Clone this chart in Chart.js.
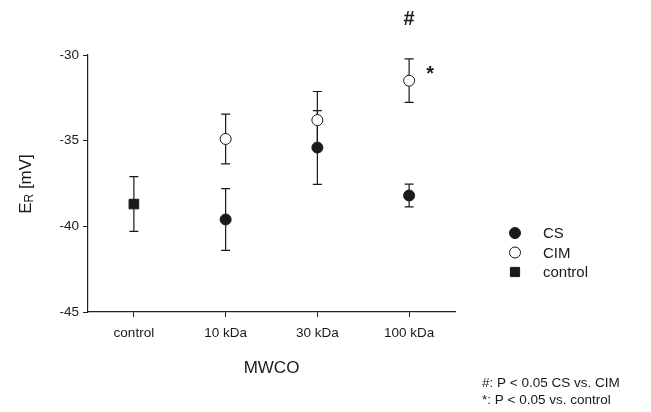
<!DOCTYPE html>
<html>
<head>
<meta charset="utf-8">
<script src="https://cdn.jsdelivr.net/npm/chart.js@4.4.1/dist/chart.umd.min.js"></script>
<style>
html,body{margin:0;padding:0;background:#fff;}
#wrap{width:651px;height:412px;}
</style>
</head>
<body>
<div id="wrap"><canvas id="c" width="651" height="412"></canvas></div>
<script>
const categories = ["control", "10 kDa", "30 kDa", "100 kDa"];
const csMean = [null, -39.6, -35.4, -38.2];
const csErr  = [null, 1.8, 2.15, 0.66];
const cimMean = [null, -34.9, -33.8, -31.5];
const cimErr  = [null, 1.45, 1.67, 1.27];
const controlMean = [-38.7, null, null, null];
const controlErr  = [1.6, null, null, null];
const yTicks = [-45, -40, -35, -30];
const sigHash = [null, null, null, "#"];
const sigStar = [null, null, null, "*"];
const notes = ["#: P < 0.05 CS vs. CIM", "*: P < 0.05 vs. control"];

const FONT = "'Liberation Sans', Arial, Helvetica, sans-serif";
const INK = "#1a1a1a";

const datasets = [
  {label: "CS", data: csMean, err: csErr, pointStyle: "circle", pointRadius: 5.5,
   backgroundColor: INK, borderColor: INK, borderWidth: 1},
  {label: "CIM", data: cimMean, err: cimErr, pointStyle: "circle", pointRadius: 5.5,
   backgroundColor: "#ffffff", borderColor: INK, borderWidth: 1},
  {label: "control", data: controlMean, err: controlErr, pointStyle: "rect", pointRadius: 6.8,
   backgroundColor: INK, borderColor: INK, borderWidth: 1}
];

const errorBars = {
  id: "errorBars",
  beforeDatasetsDraw(chart) {
    const ctx = chart.ctx, x = chart.scales.x, y = chart.scales.y;
    ctx.save();
    ctx.strokeStyle = INK; ctx.lineWidth = 1.2;
    chart.data.datasets.forEach(ds => {
      ds.data.forEach((v, i) => {
        if (v === null || ds.err[i] == null) return;
        const px = x.getPixelForValue(i);
        const t = y.getPixelForValue(v + ds.err[i]);
        const b = y.getPixelForValue(v - ds.err[i]);
        ctx.beginPath();
        ctx.moveTo(px, t); ctx.lineTo(px, b);
        ctx.moveTo(px - 4.5, t); ctx.lineTo(px + 4.5, t);
        ctx.moveTo(px - 4.5, b); ctx.lineTo(px + 4.5, b);
        ctx.stroke();
      });
    });
    ctx.restore();
  },
  afterDraw(chart) {
    const ctx = chart.ctx, x = chart.scales.x, y = chart.scales.y;
    ctx.save();
    ctx.fillStyle = INK;
    // significance marks
    ctx.font = "bold 20px " + FONT;
    ctx.textAlign = "center"; ctx.textBaseline = "middle";
    sigHash.forEach((s, i) => { if (s) ctx.fillText(s, x.getPixelForValue(i), 19); });
    sigStar.forEach((s, i) => {
      if (s) ctx.fillText(s, x.getPixelForValue(i) + 21, y.getPixelForValue(cimMean[i]) - 6);
    });
    // y title with subscript
    ctx.save();
    ctx.translate(26, 184);
    ctx.rotate(-Math.PI / 2);
    ctx.textBaseline = "middle"; ctx.textAlign = "left";
    ctx.font = "17px " + FONT;
    const wE = ctx.measureText("E").width;
    ctx.font = "12px " + FONT;
    const wR = ctx.measureText("R").width;
    ctx.font = "17px " + FONT;
    const wRest = ctx.measureText(" [mV]").width;
    let sx = -(wE + wR + wRest) / 2;
    ctx.fillText("E", sx, 0);
    ctx.font = "12px " + FONT;
    ctx.fillText("R", sx + wE, 4);
    ctx.font = "17px " + FONT;
    ctx.fillText(" [mV]", sx + wE + wR, 0);
    ctx.restore();
    // legend
    const ly = [233, 252.5, 272];
    chart.data.datasets.forEach((ds, k) => {
      const r = ds.pointStyle === "rect" ? 6.5 : 5.5;
      ctx.fillStyle = ds.backgroundColor; ctx.strokeStyle = ds.borderColor; ctx.lineWidth = 1;
      Chart.helpers.drawPoint(ctx, {pointStyle: ds.pointStyle, radius: r, borderWidth: 1}, 515, ly[k]);
      ctx.fillStyle = INK;
      ctx.font = "15px " + FONT; ctx.textAlign = "left"; ctx.textBaseline = "middle";
      ctx.fillText(ds.label, 543, ly[k] + 1);
    });
    // notes
    ctx.font = "13.5px " + FONT; ctx.textAlign = "left"; ctx.textBaseline = "middle";
    notes.forEach((n, k) => ctx.fillText(n, 482, 383 + k * 17));
    ctx.restore();
  }
};

new Chart(document.getElementById("c"), {
  type: "line",
  data: {labels: categories, datasets: datasets.map(d => Object.assign({showLine: false, pointHoverRadius: d.pointRadius}, d))},
  options: {
    responsive: false, animation: false,
    layout: {padding: {top: 55, right: 196, bottom: 0, left: 0}},
    plugins: {legend: {display: false}, tooltip: {enabled: false}},
    scales: {
      x: {
        type: "category", offset: true,
        grid: {display: true, drawOnChartArea: false, drawTicks: true, tickLength: 5, color: "#222", offset: false, lineWidth: 1},
        border: {display: true, color: "#222", width: 1.2},
        ticks: {color: INK, font: {family: FONT, size: 13.5}, padding: 8},
        title: {display: true, text: "MWCO", color: INK, font: {family: FONT, size: 17}, padding: {top: 4, bottom: 33}},
        afterFit(s) { s.height = 100; }
      },
      y: {
        min: -45, max: -30,
        afterBuildTicks(s) { s.ticks = yTicks.map(v => ({value: v})); },
        grid: {display: true, drawOnChartArea: false, drawTicks: true, tickLength: 5, color: "#222", lineWidth: 1},
        border: {display: true, color: "#222", width: 1.2},
        ticks: {color: INK, font: {family: FONT, size: 13.5}, padding: 4},
        afterFit(s) { s.width = 88; }
      }
    }
  },
  plugins: [errorBars]
});
</script>
</body>
</html>
